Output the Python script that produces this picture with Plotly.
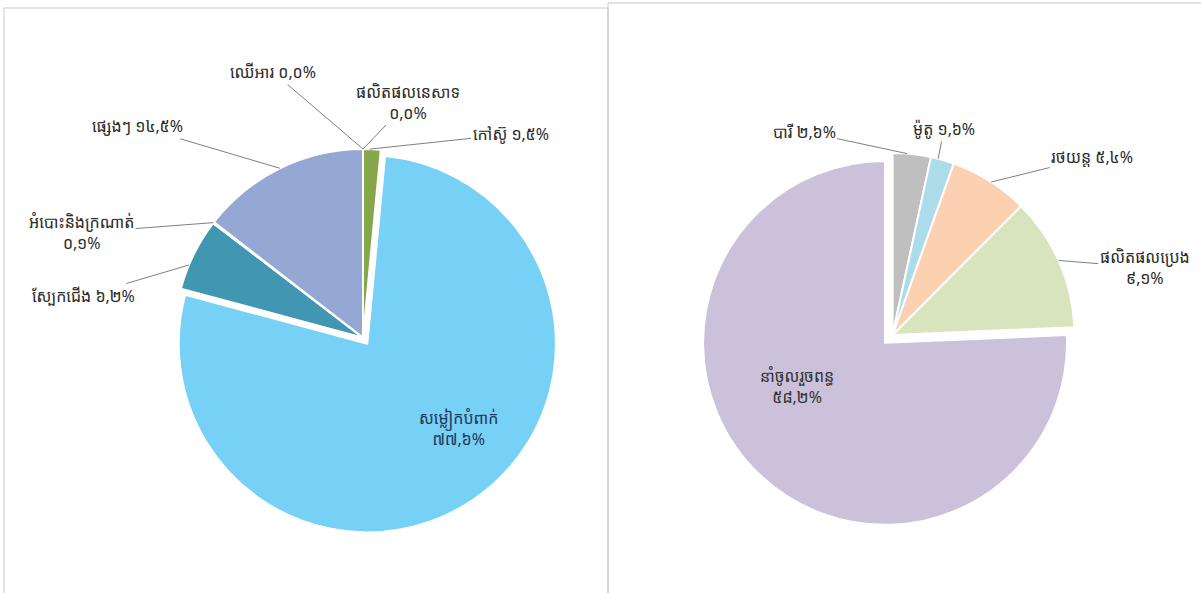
import math
import plotly.graph_objects as go

W, H = 1201, 593

# left chart: export structure
left_labels = ['កៅស៊ូ', 'សម្លៀកបំពាក់', 'ស្បែកជើង', 'អំបោះនិងក្រណាត់', 'ផ្សេងៗ', 'ឈើអារ', 'ផលិតផលនេសាទ']
left_values = [1.5, 77.6, 6.2, 0.1, 14.5, 0.0, 0.0]
left_colors = ['#86a64a', '#77d0f5', '#4196b1', '#c9c9c9', '#94a8d3', '#d9d9d9', '#d9d9d9']
left_pull = [0, 0.04, 0, 0, 0, 0, 0]

# right chart: import structure
right_labels = ['បារី', 'ម៉ូតូ', 'រថយន្ត', 'ផលិតផលប្រេង', 'នាំចូលរួចពន្ធ']
right_values = [2.6, 1.6, 5.4, 9.1, 58.2]
right_colors = ['#bfbfbf', '#acdcea', '#fbd1b1', '#d8e4bd', '#cbc1da']
right_pull = [0, 0, 0, 0, 0.06]

left_dom = dict(x=[0.1386, 0.4659], y=[0.100, 0.7614])
right_dom = dict(x=[0.5826, 0.9038], y=[0.1098, 0.7604])

KH_DIGITS = str.maketrans('0123456789', '០១២៣៤៥៦៧៨៩')


def kh_pct(v):
    # 77.6 -> ៧៧,៦%
    return ('%.1f' % v).replace('.', ',').translate(KH_DIGITS) + '%'


def pie_geom(dom, pulls):
    bw = W * (dom['x'][1] - dom['x'][0])
    bh = H * (dom['y'][1] - dom['y'][0])
    r = min(bw, bh) / (2 + 2 * max(pulls))
    cx = W * (dom['x'][0] + dom['x'][1]) / 2
    cy = H * (1 - (dom['y'][0] + dom['y'][1]) / 2)
    return cx, cy, r


def slice_point(values, pulls, dom, i, t=0.5, rf=1.0):
    # point inside/on slice i, t = fraction of its angle, rf = fraction of radius
    cx, cy, r = pie_geom(dom, pulls)
    total = sum(values)
    start = sum(values[:i]) / total * 360
    span = values[i] / total * 360
    mid = math.radians(start + span / 2)
    ang = math.radians(start + t * span)
    px = cx + pulls[i] * r * math.sin(mid) + rf * r * math.sin(ang)
    py = cy - pulls[i] * r * math.cos(mid) - rf * r * math.cos(ang)
    return px / W, 1 - py / H


fig = go.Figure()
fig.add_trace(go.Pie(
    labels=left_labels, values=left_values, sort=False, direction='clockwise',
    rotation=0, pull=left_pull, domain=left_dom, textinfo='none',
    hoverinfo='label+percent', showlegend=False,
    marker=dict(colors=left_colors, line=dict(color='white', width=2))
))
fig.add_trace(go.Pie(
    labels=right_labels, values=right_values, sort=False, direction='clockwise',
    rotation=0, pull=right_pull, domain=right_dom, textinfo='none',
    hoverinfo='label+percent', showlegend=False,
    marker=dict(colors=right_colors, line=dict(color='white', width=2))
))

FONT = 'Noto Sans Khmer, Khmer OS, Noto Sans, DejaVu Sans'
annotations = []

# leader-line labels: (index, text, t, ax, ay)
left_callouts = [
    (0, left_labels[0] + ' ' + kh_pct(left_values[0]), 0.37, 141, -15),
    (5, left_labels[5] + ' ' + kh_pct(left_values[5]), 0.5, -90, -77),
    (6, left_labels[6] + '<br>' + kh_pct(left_values[6]), 0.5, 45, -47),
    (4, left_labels[4] + ' ' + kh_pct(left_values[4]), 0.5, -142, -42),
    (3, left_labels[3] + '<br>' + kh_pct(left_values[3]), 0.5, -132, 10),
    (2, left_labels[2] + ' ' + kh_pct(left_values[2]), 0.34, -105, 31),
]
right_callouts = [
    (0, right_labels[0] + ' ' + kh_pct(right_values[0]), 0.38, -103, -22),
    (1, right_labels[1] + ' ' + kh_pct(right_values[1]), 0.31, 6, -30),
    (2, right_labels[2] + ' ' + kh_pct(right_values[2]), 0.52, 101, -25),
    (3, right_labels[3] + '<br>' + kh_pct(right_values[3]), 0.49, 86, 7),
]

for values, pulls, dom, callouts in [
    (left_values, left_pull, left_dom, left_callouts),
    (right_values, right_pull, right_dom, right_callouts),
]:
    for i, text, t, ax, ay in callouts:
        x, y = slice_point(values, pulls, dom, i, t, 1.0)
        annotations.append(dict(
            x=x, y=y, xref='paper', yref='paper', text=text,
            showarrow=True, arrowhead=0, arrowwidth=1, arrowcolor='#7f7f7f',
            ax=ax, ay=ay, standoff=0, startstandoff=0,
            font=dict(family=FONT, size=16, color='#2b2b2b')
        ))

# labels inside the pulled slices
x, y = slice_point(left_values, left_pull, left_dom, 1, 0.48, 0.75)
annotations.append(dict(
    x=x, y=y, xref='paper', yref='paper', showarrow=False,
    text=left_labels[1] + '<br>' + kh_pct(left_values[1]),
    font=dict(family=FONT, size=16, color='#1f3856')
))
x, y = slice_point(right_values, right_pull, right_dom, 4, 0.516, 0.36)
annotations.append(dict(
    x=x, y=y, xref='paper', yref='paper', showarrow=False,
    text=right_labels[4] + '<br>' + kh_pct(right_values[4]),
    font=dict(family=FONT, size=16, color='#333333')
))

# panel frames
shapes = [
    dict(type='rect', xref='paper', yref='paper', x0=4 / W, x1=608 / W,
         y0=-0.02, y1=1 - 8 / H, line=dict(color='#c8c8c8', width=1)),
    dict(type='rect', xref='paper', yref='paper', x0=608 / W, x1=1.02,
         y0=-0.02, y1=1 - 3 / H, line=dict(color='#c8c8c8', width=1)),
]

fig.update_layout(
    width=W,
    height=H,
    margin=dict(l=0, r=0, t=0, b=0),
    paper_bgcolor='white',
    plot_bgcolor='white',
    annotations=annotations,
    shapes=shapes,
    font=dict(family=FONT)
)

# drop the default 8px page margin so the figure sits at the window corner
fig.write_html('out.html', config={'displayModeBar': False},
               post_script="document.body.style.margin='0';")
